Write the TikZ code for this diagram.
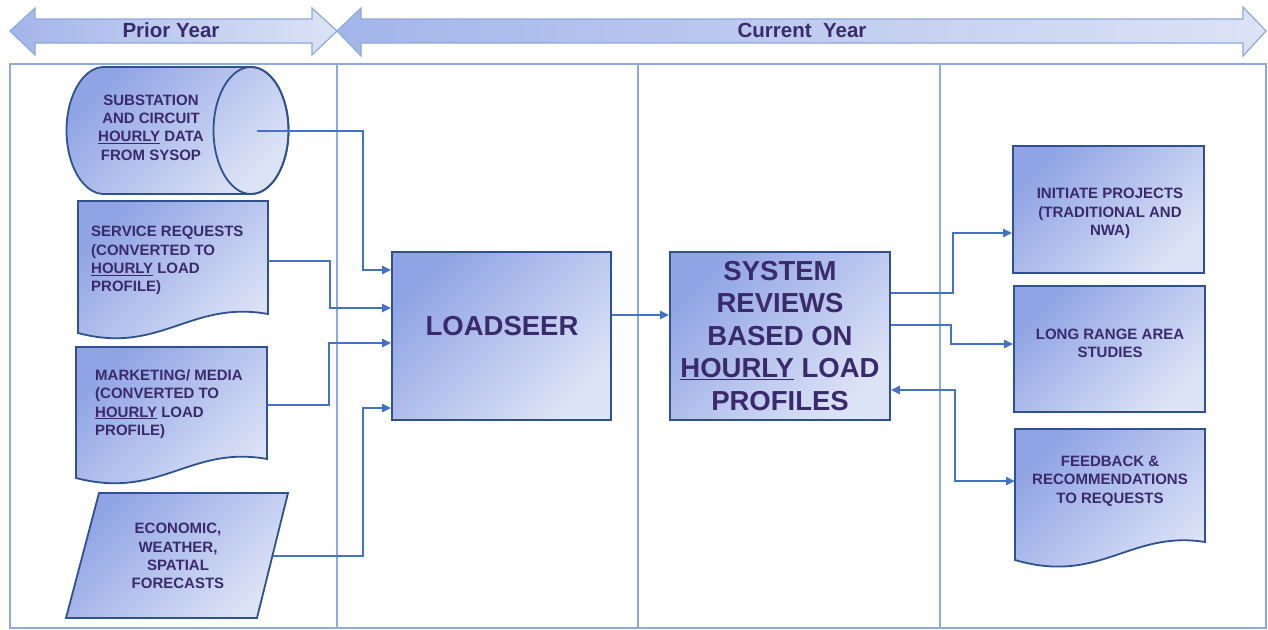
\documentclass[tikz,border=0pt]{standalone}
\usepackage{fontspec}
\setmainfont{Liberation Sans}
\usetikzlibrary{arrows.meta,calc}
\definecolor{txt}{HTML}{3A2A6C}
\definecolor{edgec}{HTML}{2F528F}
\definecolor{connc}{HTML}{4472C4}
\definecolor{framec}{HTML}{8EAADB}
\definecolor{gdark}{HTML}{90A4E5}
\definecolor{glight}{HTML}{DDE3F6}
\definecolor{hdark}{HTML}{A3B5EA}
\definecolor{hlight}{HTML}{DCE3F6}
\tikzset{
  shp/.style={draw=edgec, line width=1.8pt, top color=gdark, bottom color=glight, shading angle=45},
  hdr/.style={draw=framec, line width=1.2pt, left color=hdark, right color=hlight},
  lbl/.style={text=txt, font=\fontsize{15}{18.3}\selectfont\bfseries, inner sep=0pt},
  big/.style={text=txt, font=\fontsize{27.5}{32.5}\selectfont\bfseries, inner sep=0pt, align=center},
  hlbl/.style={text=txt, font=\fontsize{20.5}{24}\selectfont\bfseries, inner sep=0pt},
  conn/.style={draw=connc, line width=2.4pt, -{Triangle[length=9pt,width=8pt]}},
  conn2/.style={draw=connc, line width=2.4pt, {Triangle[length=9pt,width=8pt]}-{Triangle[length=9pt,width=8pt]}},
  frm/.style={draw=framec, line width=1.1pt},
}
\begin{document}
\begin{tikzpicture}[x=1pt,y=-1pt]
\useasboundingbox (0,0) rectangle (1268,629);
% header arrows
\path[hdr] (10,31) -- (35,8) -- (35,19) -- (312,19) -- (312,8) -- (337,31) -- (312,55) -- (312,43) -- (35,43) -- (35,55) -- cycle;
\path[hdr] (337,31) -- (361,8) -- (361,19) -- (1243,19) -- (1243,7) -- (1266,31) -- (1243,56) -- (1243,43) -- (361,43) -- (361,56) -- cycle;
\node[hlbl] (prior) at (171,30) {Prior Year};
\node[hlbl] (current) at (802,30) {Current\ \ Year};
% frame
\draw[frm] (10,64) rectangle (1266,628);
\draw[frm] (337,64) -- (337,628);
\draw[frm] (638,64) -- (638,628);
\draw[frm] (940,64) -- (940,628);
% cylinder
\path[shp] (251,67) arc[start angle=90,end angle=-90,x radius=37.5pt,y radius=63.5pt] -- (104,194) arc[start angle=270,end angle=90,x radius=37.5pt,y radius=63.5pt] -- cycle;
\draw[draw=edgec, line width=1.8pt] (251,130.5) ellipse[x radius=37.5pt,y radius=63.5pt];
\node[lbl, align=center] (cylT) at (151,127.5) {SUBSTATION\\AND CIRCUIT\\\underline{HOURLY} DATA\\FROM SYSOP};
% service requests document
\path[shp] (78,201) -- (268,201) -- (268,314) .. controls (190,300) and (160,355) .. (78,333) -- cycle;
\node[lbl, align=left, anchor=west] (svcT) at (91,260.5) {SERVICE REQUESTS\\(CONVERTED TO\\\underline{HOURLY} LOAD\\PROFILE)};
% marketing document
\path[shp] (76,347) -- (267,347) -- (267,459) .. controls (190,445) and (160,500) .. (76,478) -- cycle;
\node[lbl, align=left, anchor=west] (mktT) at (95,404) {MARKETING/ MEDIA\\(CONVERTED TO\\\underline{HOURLY} LOAD\\PROFILE)};
% economic parallelogram
\path[shp] (99,493) -- (288,493) -- (257,618) -- (66,618) -- cycle;
\node[lbl, align=center] (ecoT) at (178,556) {ECONOMIC,\\WEATHER,\\SPATIAL\\FORECASTS};
% loadseer
\node[shp, minimum width=219pt, minimum height=168pt, inner sep=0pt] (load) at (501.5,336) {};
\node[big] (loadT) at (502,326) {LOADSEER};
% system reviews
\node[shp, minimum width=220pt, minimum height=168pt, inner sep=0pt, big] (sys) at (780,336) {SYSTEM\\REVIEWS\\BASED ON\\\underline{HOURLY} LOAD\\PROFILES};
% right boxes
\node[shp, minimum width=191pt, minimum height=127pt, inner sep=0pt] (init) at (1108.5,209.5) {};
\node[lbl, align=center] (initT) at (1110,213.5) {INITIATE PROJECTS\\(TRADITIONAL AND\\NWA)};
\node[shp, minimum width=191pt, minimum height=126pt, inner sep=0pt] (lra) at (1109.5,349) {};
\node[lbl, align=center] (lraT) at (1110,343) {LONG RANGE AREA\\STUDIES};
\path[shp] (1015,429) -- (1205,429) -- (1205,542) .. controls (1130,530) and (1100,585) .. (1015,560) -- cycle;
\node[lbl, align=center] (fbT) at (1110,481) {FEEDBACK \&\\RECOMMENDATIONS\\TO REQUESTS};
% connector points
\coordinate (cylC) at (257,131);
\coordinate (svcR) at (268,261);
\coordinate (mktR) at (267,405);
\coordinate (ecoR) at (273,556);
\coordinate (fbL) at (1015,481);
% connectors
\draw[conn] (cylC) -| (363,270) -- (load.west |- 0,270);
\draw[conn] (svcR) -| (330,308) -- (load.west |- 0,308);
\draw[conn] (mktR) -| (329,343) -- (load.west |- 0,343);
\draw[conn] (ecoR) -| (363,408) -- (load.west |- 0,408);
\draw[conn] (load.east |- 0,315) -- (sys.west |- 0,315);
\draw[conn] (sys.east |- 0,293) -| (953,233) -- (init.west |- 0,233);
\draw[conn] (sys.east |- 0,325) -| (951,344) -- (lra.west |- 0,344);
\draw[conn2] (sys.east |- 0,390) -| (955,481) -- (fbL);
\end{tikzpicture}
\end{document}
